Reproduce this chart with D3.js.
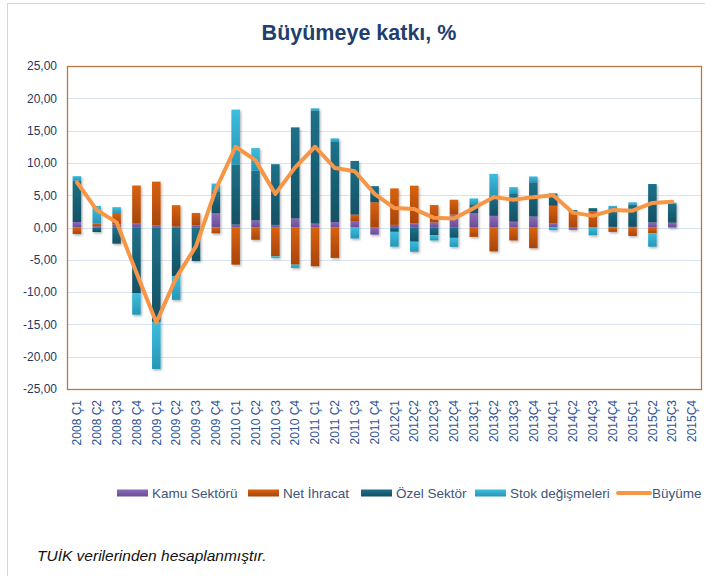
<!DOCTYPE html>
<html lang="tr">
<head>
<meta charset="UTF-8">
<title>Büyümeye katkı, %</title>
<script src="https://d3js.org/d3.v7.min.js"></script>
<style>
    body { margin: 0; padding: 0; background: #fff; }
    svg { display: block; font-family: "Liberation Sans", Arial, sans-serif; }
    .grid line { stroke: #d9e3f0; stroke-width: 1; }
    .ytick { font-size: 12px; fill: #1f3864; }
    .xtick { font-size: 12px; fill: #2e5496; }
    .legend text { font-size: 13.5px; fill: #3d5579; }
</style>
</head>
<body>
<script>
    // çeyrekler
    const quarters = [
        "2008 Ç1", "2008 Ç2", "2008 Ç3", "2008 Ç4",
        "2009 Ç1", "2009 Ç2", "2009 Ç3", "2009 Ç4",
        "2010 Ç1", "2010 Ç2", "2010 Ç3", "2010 Ç4",
        "2011 Ç1", "2011 Ç2", "2011 Ç3", "2011 Ç4",
        "2012Ç1", "2012Ç2", "2012Ç3", "2012Ç4",
        "2013Ç1", "2013Ç2", "2013Ç3", "2013Ç4",
        "2014Ç1", "2014Ç2", "2014Ç3", "2014Ç4",
        "2015Ç1", "2015Ç2", "2015Ç3", "2015Ç4"
    ];

    // katkılar (yüzde puan)
    const kamu = [0.85, 0.2, 0.45, 0.7, 0.3, 0.15, 0.35, 2.2, 0.45, 1.1, 0.4, 1.4, 0.6, 0.85, 1.0, -1.1,
        0.4, 0.67, 0.78, 2.0, 2.2, 1.8, 0.9, 1.7, 0.67, -0.35, 0, 0.1, 0.1, 0.78, 0.75, null];
    const netIhracat = [-1.0, 0.45, 1.8, 5.8, 6.8, 3.3, 1.9, -0.9, -5.75, -1.9, -4.45, -5.75, -6.0, -4.7, 1.0, 3.9,
        5.65, 5.8, 2.7, 2.3, -1.45, -3.7, -2.0, -3.2, 2.7, 2.4, 2.5, -0.67, -1.3, -0.9, 0, null];
    const ozel = [6.4, -0.7, -2.5, -10.2, -14.6, -7.5, -5.2, 3.4, 9.3, 7.7, 9.4, 14.1, 17.5, 12.4, 8.3, 2.5,
        -0.67, -2.2, -1.2, -1.6, 1.4, 3.1, 4.4, 5.3, 1.9, 0.3, 0.5, 2.85, 3.45, 5.95, 2.9, null];
    const stok = [0.7, 2.7, 0.9, -3.3, -7.3, -3.7, 0, 1.2, 8.5, 3.5, -0.25, -0.5, 0.35, 0.55, -1.7, 0,
        -2.3, -1.55, -0.8, -1.4, 0.9, 3.4, 0.95, 0.9, -0.4, 0, -1.2, 0.4, 0.35, -2.07, 0.2, null];
    const buyume = [7.0, 2.7, 0.8, -7.0, -14.7, -7.8, -2.9, 5.9, 12.5, 10.4, 5.2, 9.3, 12.5, 9.2, 8.7, 5.2,
        3.0, 2.85, 1.5, 1.4, 3.0, 4.7, 4.3, 4.7, 5.0, 2.3, 1.8, 2.7, 2.6, 3.8, 4.0, null];

    const yTicks = [-25, -20, -15, -10, -5, 0, 5, 10, 15, 20, 25];

    const series = [
        { key: "kamu", name: "Kamu Sektörü", light: "#8c6bb8", dark: "#6a4d96" },
        { key: "net", name: "Net İhracat", light: "#d8620f", dark: "#a94506" },
        { key: "ozel", name: "Özel Sektör", light: "#1e7189", dark: "#135063" },
        { key: "stok", name: "Stok değişmeleri", light: "#3cbddf", dark: "#2796b6" }
    ];

    const width = 705, height = 576;
    const plot = { left: 67, right: 702, top: 66, bottom: 389 };

    const rows = quarters.map((q, i) => ({
        q: q,
        kamu: kamu[i] || 0,
        net: netIhracat[i] || 0,
        ozel: ozel[i] || 0,
        stok: stok[i] || 0
    }));

    const svg = d3.select("body").append("svg")
        .attr("width", width)
        .attr("height", height);

    const defs = svg.append("defs");
    series.forEach(s => {
        const g = defs.append("linearGradient")
            .attr("id", "grad-" + s.key)
            .attr("x1", 0).attr("y1", 0).attr("x2", 0).attr("y2", 1);
        g.append("stop").attr("offset", "0%").attr("stop-color", s.light);
        g.append("stop").attr("offset", "100%").attr("stop-color", s.dark);
    });
    defs.append("filter").attr("id", "shadow")
        .attr("x", "-50%").attr("y", "-10%").attr("width", "200%").attr("height", "130%")
        .append("feDropShadow")
        .attr("dx", 1.2).attr("dy", 1.5).attr("stdDeviation", 1)
        .attr("flood-color", "#000").attr("flood-opacity", 0.3);

    // dış çerçeve
    svg.append("rect")
        .attr("x", 7.5).attr("y", 3.5)
        .attr("width", 740).attr("height", 620)
        .attr("fill", "none").attr("stroke", "#c9d8ec");

    const x = d3.scaleBand()
        .domain(quarters)
        .range([plot.left, plot.right])
        .paddingInner(0.57)
        .paddingOuter(0.285);

    const y = d3.scaleLinear()
        .domain([-25, 25])
        .range([plot.bottom, plot.top]);

    // ızgara
    svg.append("g").attr("class", "grid")
        .selectAll("line")
        .data(yTicks.filter(t => t !== 25 && t !== -25))
        .join("line")
        .attr("x1", plot.left).attr("x2", plot.right)
        .attr("y1", d => Math.round(y(d)) + 0.5)
        .attr("y2", d => Math.round(y(d)) + 0.5);

    // y ekseni
    const fmt = d => d3.format(".2f")(d).replace(".", ",").replace("−", "-");
    const yAxis = svg.append("g")
        .attr("transform", `translate(${plot.left},0)`)
        .call(d3.axisLeft(y).tickValues(yTicks).tickSize(0).tickPadding(10).tickFormat(fmt));
    yAxis.select(".domain").remove();
    yAxis.selectAll("text").attr("class", "ytick").attr("fill", null);

    // x ekseni
    const xAxis = svg.append("g")
        .attr("transform", `translate(0,${plot.bottom})`)
        .call(d3.axisBottom(x).tickSize(0));
    xAxis.select(".domain").remove();
    xAxis.selectAll("text")
        .attr("class", "xtick")
        .attr("fill", null)
        .attr("transform", "rotate(-90)")
        .attr("text-anchor", "end")
        .attr("x", -11)
        .attr("y", 0)
        .attr("dy", "0.35em");

    // yığılmış çubuklar
    const stacked = d3.stack()
        .keys(series.map(s => s.key))
        .offset(d3.stackOffsetDiverging)(rows);

    const bars = svg.append("g").attr("filter", "url(#shadow)");
    bars.selectAll("g")
        .data(stacked)
        .join("g")
        .attr("fill", d => "url(#grad-" + d.key + ")")
        .selectAll("rect")
        .data(d => d.filter(p => p[1] - p[0] !== 0))
        .join("rect")
        .attr("x", d => x(d.data.q))
        .attr("width", x.bandwidth())
        .attr("y", d => y(Math.max(d[0], d[1])))
        .attr("height", d => Math.abs(y(d[0]) - y(d[1])));

    // büyüme çizgisi
    const line = d3.line()
        .defined(d => d.v !== null)
        .x(d => x(d.q) + x.bandwidth() / 2)
        .y(d => y(d.v))
        .curve(d3.curveLinear);

    svg.append("path")
        .datum(quarters.map((q, i) => ({ q: q, v: buyume[i] })))
        .attr("fill", "none")
        .attr("stroke", "#f79646")
        .attr("stroke-width", 4)
        .attr("stroke-linejoin", "round")
        .attr("stroke-linecap", "round")
        .attr("d", line);

    // çizim alanı çerçevesi
    svg.append("rect")
        .attr("x", plot.left + 0.5).attr("y", plot.top + 0.5)
        .attr("width", plot.right - plot.left - 1)
        .attr("height", plot.bottom - plot.top)
        .attr("fill", "none")
        .attr("stroke", "#b87844")
        .attr("stroke-width", 1.3);

    // başlık
    svg.append("text")
        .attr("x", 359).attr("y", 40)
        .attr("text-anchor", "middle")
        .attr("font-size", 21.5)
        .attr("font-weight", "bold")
        .attr("fill", "#1f3f6e")
        .text("Büyümeye katkı, %");

    // lejant
    const legendY = 493;
    const legendX = [117, 248, 361, 475];
    const legend = svg.append("g").attr("class", "legend");
    series.forEach((s, i) => {
        legend.append("rect")
            .attr("x", legendX[i]).attr("y", legendY - 3.5)
            .attr("width", 31).attr("height", 7)
            .attr("fill", "url(#grad-" + s.key + ")");
        legend.append("text")
            .attr("x", legendX[i] + 35).attr("y", legendY)
            .attr("dy", "0.35em")
            .text(s.name);
    });
    legend.append("line")
        .attr("x1", 618).attr("x2", 650)
        .attr("y1", legendY).attr("y2", legendY)
        .attr("stroke", "#f79646").attr("stroke-width", 4)
        .attr("stroke-linecap", "round");
    legend.append("text")
        .attr("x", 652).attr("y", legendY)
        .attr("dy", "0.35em")
        .text("Büyüme");

    // kaynak notu
    svg.append("text")
        .attr("x", 37).attr("y", 561)
        .attr("font-size", 15.5)
        .attr("font-style", "italic")
        .attr("fill", "#111")
        .text("TUİK verilerinden hesaplanmıştır.");
</script>
</body>
</html>
